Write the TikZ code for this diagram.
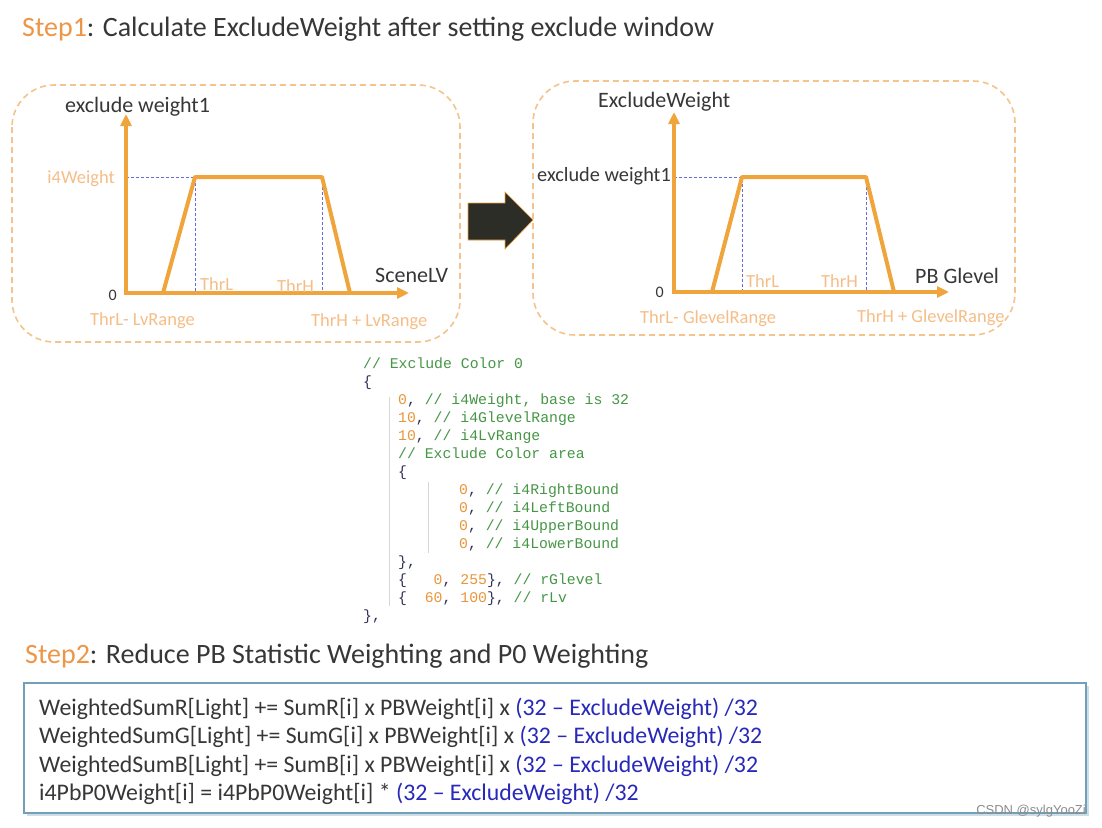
\documentclass[tikz,border=0pt]{standalone}
\usepackage{fontspec}
\setmainfont{Carlito}
\setmonofont{Liberation Mono}
\newfontfamily\wmfont{Liberation Sans}
\usetikzlibrary{arrows.meta,positioning,calc}
\definecolor{axisor}{RGB}{240,165,60}
\definecolor{lightor}{RGB}{245,190,135}
\definecolor{boxor}{RGB}{245,195,140}
\definecolor{steporange}{RGB}{236,150,70}
\definecolor{guideblue}{RGB}{105,105,225}
\definecolor{darktxt}{RGB}{55,55,55}
\definecolor{formblue}{RGB}{40,40,185}
\definecolor{formbox}{RGB}{115,160,185}
\definecolor{codegreen}{RGB}{70,150,70}
\definecolor{codenum}{RGB}{232,150,60}
\definecolor{codepunct}{RGB}{50,50,90}
\definecolor{codeguide}{RGB}{215,215,215}
\definecolor{arrowdark}{RGB}{45,45,40}
\newcommand{\ccom}[1]{\textcolor{codegreen}{#1}}
\newcommand{\cnum}[1]{\textcolor{codenum}{#1}}
\newcommand{\fblue}[1]{\textcolor{formblue}{#1}}
\tikzset{
  axis/.style={-{Triangle[length=12pt,width=11pt]},line width=4pt,draw=axisor},
  curve/.style={line width=4pt,draw=axisor,line join=round},
  guide/.style={draw=guideblue,line width=1pt,dash pattern=on 3pt off 2pt},
  winbox/.style={draw=boxor,line width=1.6pt,rounded corners=42pt,dash pattern=on 6pt off 4pt},
  title/.style={font=\fontsize{28}{28}\selectfont,text=darktxt,inner sep=0pt,anchor=base west},
  axlabel/.style={font=\fontsize{22}{22}\selectfont,text=darktxt,inner sep=0pt},
  thrlabel/.style={font=\fontsize{18.5}{18.5}\selectfont,text=lightor,inner sep=0pt},
  zerolabel/.style={font=\fontsize{16}{16}\selectfont,text=darktxt,inner sep=0pt,anchor=base east},
  codeline/.style={font=\fontsize{14.8}{14.8}\ttfamily,text=codepunct,inner sep=0pt,anchor=base west},
  formline/.style={font=\fontsize{23.8}{23.8}\selectfont,text=darktxt,inner sep=0pt,anchor=base west}
}

\begin{document}
\begin{tikzpicture}[x=1pt,y=-1pt]
\useasboundingbox[fill=white] (0,0) rectangle (1102,827);

% step 1 heading
\node[title] (step1) at (22,36) {\textcolor{steporange}{Step1}: Calculate ExcludeWeight after setting exclude window};

% left window: exclude weight1 over SceneLV
\draw[winbox] (12,85) rectangle (460,342);
\coordinate (o1) at (126,293);
\coordinate (y1) at (126,114);
\coordinate (x1) at (409,293);
\coordinate (a1) at (163,293);
\coordinate (b1) at (195,177);
\coordinate (c1) at (322,177);
\coordinate (d1) at (350,293);
\draw[guide] (o1 |- b1) -- (b1) -- (b1 |- o1);
\draw[guide] (c1) -- (c1 |- o1);
\draw[curve] (a1) -- (b1) -- (c1) -- (d1);
\draw[axis] (o1) -- (y1);
\draw[axis] ($(o1)+(-2,0)$) -- (x1);
\node[axlabel,anchor=base west] (ylab1) at (65,112) {exclude weight1};
\node[thrlabel,anchor=base east] (wlab1) at (115,183) {i4Weight};
\node[zerolabel] (zero1) at (117,300) {0};
\node[thrlabel,anchor=base west] (thrl1) at (200,290) {ThrL};
\node[thrlabel,anchor=base west] (thrh1) at (277,292) {ThrH};
\node[axlabel,anchor=base west] (xlab1) at (375,282) {SceneLV};
\node[thrlabel,anchor=base west] (lo1) at (90,325) {ThrL- LvRange};
\node[thrlabel,anchor=base west] (hi1) at (311,326) {ThrH + LvRange};

% block arrow
\filldraw[fill=arrowdark,draw=axisor,line width=0.6pt]
  (468,203) -- (505,203) -- (505,192) -- (533,220) -- (505,249) -- (505,240) -- (468,240) -- cycle;

% right window: ExcludeWeight over PB Glevel
\draw[winbox] (533,81) rectangle (1015,335);
\coordinate (o2) at (674,292);
\coordinate (y2) at (674,112);
\coordinate (x2) at (949,292);
\coordinate (a2) at (712,292);
\coordinate (b2) at (742,177);
\coordinate (c2) at (866,177);
\coordinate (d2) at (894,292);
\draw[guide] (o2 |- b2) -- (b2) -- (b2 |- o2);
\draw[guide] (c2) -- (c2 |- o2);
\draw[curve] (a2) -- (b2) -- (c2) -- (d2);
\draw[axis] (o2) -- (y2);
\draw[axis] ($(o2)+(-2,0)$) -- (x2);
\node[axlabel,anchor=base west] (ylab2) at (598,107) {ExcludeWeight};
\node[axlabel,anchor=base east,font=\fontsize{20.3}{20.3}\selectfont] (wlab2) at (671,181) {exclude weight1};
\node[zerolabel] (zero2) at (664,297) {0};
\node[thrlabel,anchor=base west] (thrl2) at (746,287) {ThrL};
\node[thrlabel,anchor=base west] (thrh2) at (821,287) {ThrH};
\node[axlabel,anchor=base west] (xlab2) at (915,283) {PB Glevel};
\node[thrlabel,anchor=base west] (lo2) at (640,323) {ThrL- GlevelRange};
\node[thrlabel,anchor=base west] (hi2) at (857,322) {ThrH + GlevelRange};

% code listing
\draw[codeguide,line width=0.8pt] (389,397) -- (389,606);
\draw[codeguide,line width=0.8pt] (428,482) -- (428,553);
\node[codeline] (cl1) at (363,368) {\ccom{// Exclude Color 0}};
\node[codeline] (cl2) at (363,386) {\{};
\node[codeline] (cl3) at (398,404) {\cnum{0}, \ccom{// i4Weight, base is 32}};
\node[codeline] (cl4) at (398,422) {\cnum{10}, \ccom{// i4GlevelRange}};
\node[codeline] (cl5) at (398,440) {\cnum{10}, \ccom{// i4LvRange}};
\node[codeline] (cl6) at (398,458) {\ccom{// Exclude Color area}};
\node[codeline] (cl7) at (398,476) {\{};
\node[codeline] (cl8) at (459,494) {\cnum{0}, \ccom{// i4RightBound}};
\node[codeline] (cl9) at (459,512) {\cnum{0}, \ccom{// i4LeftBound}};
\node[codeline] (cl10) at (459,530) {\cnum{0}, \ccom{// i4UpperBound}};
\node[codeline] (cl11) at (459,548) {\cnum{0}, \ccom{// i4LowerBound}};
\node[codeline] (cl12) at (398,566) {\},};
\node[codeline] (cl13) at (398,584) {\{\ \ \ \cnum{0}, \cnum{255}\}, \ccom{// rGlevel}};
\node[codeline] (cl14) at (398,602) {\{\ \ \cnum{60}, \cnum{100}\}, \ccom{// rLv}};
\node[codeline] (cl15) at (363,620) {\},};

% step 2 heading
\node[title] (step2) at (25,663) {\textcolor{steporange}{Step2}: Reduce PB Statistic Weighting and P0 Weighting};

% formula box
\fill[formbox!35] (27,686) rectangle (1089,816);
\filldraw[fill=white,draw=formbox,line width=1.6pt] (24,683) rectangle (1086,813);
\node[formline] (f1) at (39,715) {WeightedSumR[Light] += SumR[i] x PBWeight[i] x \fblue{(32 – ExcludeWeight) /32}};
\node[formline] (f2) at (39,743.5) {WeightedSumG[Light] += SumG[i] x PBWeight[i] x \fblue{(32 – ExcludeWeight) /32}};
\node[formline] (f3) at (39,772) {WeightedSumB[Light] += SumB[i] x PBWeight[i] x \fblue{(32 – ExcludeWeight) /32}};
\node[formline] (f4) at (39,800) {i4PbP0Weight[i] = i4PbP0Weight[i] * \fblue{(32 – ExcludeWeight) /32}};

% watermark
\node[font=\wmfont\fontsize{13}{13}\selectfont,text=black!45,inner sep=0pt,anchor=base east] (wm) at (1086,814) {CSDN @sylgYooZi};
\end{tikzpicture}
\end{document}
